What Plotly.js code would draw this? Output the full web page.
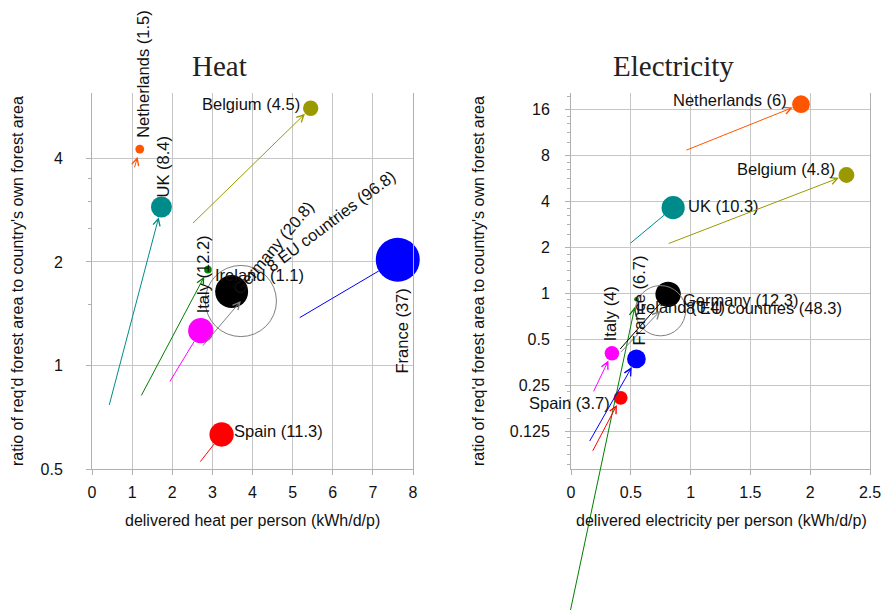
<!DOCTYPE html>
<html><head><meta charset="utf-8">
<script src="https://cdn.plot.ly/plotly-3.0.1.min.js"></script>
<style>html,body{margin:0;padding:0;background:#fff}</style>
</head><body><div id="chart" style="width:886px;height:610px"></div>
<script>
// ---------- data ----------
const countries = ['Netherlands','UK','Belgium','Italy','Ireland','Germany','8 EU countries','France','Spain'];

// Heat panel: delivered heat (kWh/d/p), forest-area ratio, value in label, arrow tail
const heatX     = [1.19, 1.73, 5.45, 2.71, 2.89, 3.48, 3.71, 7.62, 3.23];
const heatY     = [4.26, 2.89, 5.60, 1.263, 1.90, 1.64, 1.54, 2.03, 0.63];
const heatValue = [1.5, 8.4, 4.5, 12.2, 1.1, 20.8, 96.8, 37, 11.3];
const heatFromX = [1.05, 0.42, 2.48, 1.92, 1.21, null, 2.73, 5.14, 2.67];
const heatFromY = [3.73, 0.76, 2.57, 0.89, 0.81, null, 1.13, 1.37, 0.52];

// Electricity panel
const elecX     = [1.923, 0.854, 2.303, 0.342, 0.547, 0.812, 0.748, 0.547, 0.415];
const elecY     = [17.2, 3.62, 5.92, 0.403, 0.91, 0.98, 0.766, 0.37, 0.206];
const elecValue = [6, 10.3, 4.8, 4, 0.4, 12.3, 48.3, 6.7, 3.7];
const elecFromX = [0.952, 0.485, 0.804, 0.183, -0.044, 0.40, 0.407, 0.149, 0.175];
const elecFromY = [8.53, 2.08, 2.09, 0.222, 0.006, 0.42, 0.403, 0.105, 0.0906];

// axis ticks
const heatXTicks = [0,1,2,3,4,5,6,7,8];
const heatYTicks = [0.5, 1, 2, 4];
const heatYTickText = ['0.5','1','2','4'];
const elecXTicks = [0, 0.5, 1, 1.5, 2, 2.5];
const elecXTickText = ['0','0.5','1','1.5','2','2.5'];
const elecYTicks = [0.125, 0.25, 0.5, 1, 2, 4, 8, 16];
const elecYTickText = ['0.125','0.25','0.5','1','2','4','8','16'];

// ---------- style ----------
const colors = {
  'Netherlands':'#ff5500', 'UK':'#008b8b', 'Belgium':'#9a9a00', 'Italy':'#ff00ff',
  'Ireland':'#008000', 'Germany':'#000000', '8 EU countries':'#808080',
  'France':'#0000ff', 'Spain':'#ff0000'
};
const heatLabelPos = {
  'Netherlands':{a:'center',dx:3,dy:-75,rot:-90},
  'UK':{a:'center',dx:2,dy:-40,rot:-90},
  'Belgium':{a:'right',dx:-9,dy:-4,rot:0},
  'Italy':{a:'center',dx:2,dy:-56,rot:-90},
  'Ireland':{a:'left',dx:5,dy:5,rot:0},
  'Germany':{a:'center',dx:41,dy:-44,rot:-50},
  '8 EU countries':{a:'center',dx:90,dy:-80,rot:-37},
  'France':{a:'center',dx:4,dy:71,rot:-90},
  'Spain':{a:'left',dx:10,dy:-3,rot:0}
};
const elecLabelPos = {
  'Netherlands':{a:'right',dx:-12,dy:-4,rot:0},
  'UK':{a:'left',dx:13,dy:-2,rot:0},
  'Belgium':{a:'right',dx:-9,dy:-6,rot:0},
  'Italy':{a:'center',dx:-2,dy:-40,rot:-90},
  'Ireland':{a:'left',dx:-2,dy:8,rot:0},
  'Germany':{a:'left',dx:13,dy:6,rot:0},
  '8 EU countries':{a:'left',dx:24,dy:-3,rot:0},
  'France':{a:'center',dx:3,dy:-59,rot:-90},
  'Spain':{a:'right',dx:-9,dy:5,rot:0}
};
const SIZE_K = 44/Math.sqrt(37);   // marker diameter ~ sqrt(value)
const FONT = 'Liberation Sans, Arial, sans-serif';
const LABEL_SIZE = 16.5, TICK_SIZE = 16;
const GRID = '#c6c6c6', LINE = '#b0b0b0';

function panel(xs, ys, vals, fx, fy, labelPos, xr, yr) {
  const sizes = vals.map(v => SIZE_K*Math.sqrt(v));
  const isOpen = countries.map(c => c === '8 EU countries');
  const trace = {
    type:'scatter', mode:'markers', x:xs, y:ys, xaxis:xr, yaxis:yr,
    cliponaxis:false, hoverinfo:'skip',
    marker:{
      size:sizes, sizemode:'diameter',
      color:countries.map((c,i)=> isOpen[i] ? 'rgba(0,0,0,0)' : colors[c]),
      line:{color:countries.map(c=>colors[c]), width:countries.map((c,i)=> isOpen[i]?1:0)},
      opacity:1
    }
  };
  const ann = [];
  countries.forEach((c,i) => {
    const r = sizes[i]/2;
    if (fx[i] !== null) {
      const big = !isOpen[i] && r > 11.5;
      ann.push({
        x:xs[i], y:Math.log10(ys[i]), xref:xr, yref:yr,
        ax:fx[i], ay:Math.log10(fy[i]), axref:xr, ayref:yr,
        text:'', showarrow:true, arrowcolor:colors[c], arrowwidth:1,
        arrowhead: big ? 0 : 5, arrowsize:1.4,
        standoff: isOpen[i] ? 0 : (big ? r : Math.max(r, 8))
      });
    }
    const lp = labelPos[c];
    ann.push({
      x:xs[i], y:Math.log10(ys[i]), xref:xr, yref:yr, showarrow:false,
      text:c + ' (' + vals[i] + ')', textangle:lp.rot,
      xanchor:lp.a, yanchor:'middle', xshift:lp.dx, yshift:-lp.dy,
      font:{family:FONT, size:LABEL_SIZE, color:'#111'}
    });
  });
  return {trace, ann};
}

const H = panel(heatX, heatY, heatValue, heatFromX, heatFromY, heatLabelPos, 'x', 'y');
const E = panel(elecX, elecY, elecValue, elecFromX, elecFromY, elecLabelPos, 'x2', 'y2');

const W = 886, HT = 610;
const px = v => v/W, py = v => 1 - v/HT;
const yDomain = [py(469), py(93)];

function xAxis(domain, range, ticks, text, anchor) {
  return {domain, range, tickmode:'array', tickvals:ticks, ticktext:text, anchor,
    showgrid:true, gridcolor:GRID, gridwidth:1, zeroline:false,
    showline:true, linecolor:LINE, linewidth:1, ticks:'outside', ticklen:5, tickcolor:LINE,
    ticklabelstandoff:4, tickfont:{family:FONT, size:TICK_SIZE, color:'#111'}, fixedrange:true};
}
function yAxis(range, ticks, text, anchor, minorVals, standoff) {
  return {domain:yDomain, type:'log', range, tickmode:'array', tickvals:ticks, ticktext:text, anchor,
    showgrid:true, gridcolor:GRID, gridwidth:1, zeroline:false,
    showline:true, mirror:true, linecolor:LINE, linewidth:1, ticks:'outside', ticklen:5, tickcolor:LINE,
    ticklabelstandoff:standoff,
    minor:{tickmode:'array', tickvals:minorVals, ticks:'outside', ticklen:3, tickcolor:LINE, showgrid:false},
    tickfont:{family:FONT, size:TICK_SIZE, color:'#111'}, fixedrange:true};
}
const elecMinor = [];
[0.0625,0.125,0.25,0.5,1,2,4,8,16].forEach(b => [1.2,1.4,1.6,1.8].forEach(m => elecMinor.push(b*m)));

const textAnn = [
  {text:'Heat', x:px(219), y:py(66), font:{family:'Liberation Serif, serif', size:29, color:'#222'}},
  {text:'Electricity', x:px(673), y:py(66), font:{family:'Liberation Serif, serif', size:29, color:'#222'}},
  {text:'delivered heat per person (kWh/d/p)', x:px(252.5), y:py(520), font:{family:FONT, size:TICK_SIZE, color:'#111'}},
  {text:'delivered electricity per person (kWh/d/p)', x:px(721), y:py(520), font:{family:FONT, size:TICK_SIZE, color:'#111'}},
  {text:"ratio of req'd forest area to country's own forest area", x:px(17), y:py(281), textangle:-90, font:{family:FONT, size:TICK_SIZE, color:'#111'}},
  {text:"ratio of req'd forest area to country's own forest area", x:px(478), y:py(281), textangle:-90, font:{family:FONT, size:TICK_SIZE, color:'#111'}}
].map(a => Object.assign({xref:'paper', yref:'paper', showarrow:false, xanchor:'center', yanchor:'middle'}, a));

const layout = {
  width:W, height:HT, margin:{l:0,r:0,t:0,b:0},
  paper_bgcolor:'#fff', plot_bgcolor:'#fff', showlegend:false,
  font:{family:FONT, size:TICK_SIZE, color:'#111'},
  xaxis: xAxis([px(92), px(413)], [0,8], heatXTicks, heatXTicks.map(String), 'y'),
  yaxis: yAxis([Math.log10(0.5), 0.7925], heatYTicks, heatYTickText, 'x', [1.5,2.5,3,3.5], 20),
  xaxis2: xAxis([px(571), px(870)], [0,2.5], elecXTicks, elecXTickText, 'y2'),
  yaxis2: yAxis([-1.1518, 1.3089], elecYTicks, elecYTickText, 'x2', elecMinor, 12),
  annotations: H.ann.concat(E.ann, textAnn)
};

Plotly.newPlot('chart', [H.trace, E.trace], layout, {displayModeBar:false, staticPlot:true});
</script></body></html>
